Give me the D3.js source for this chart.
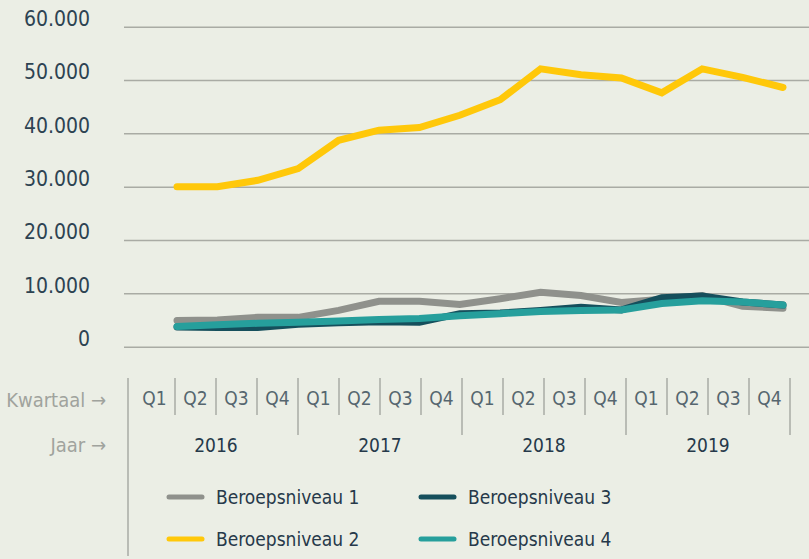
<!DOCTYPE html>
<html>
<head>
<meta charset="utf-8">
<script src="https://cdn.jsdelivr.net/npm/d3@7"></script>
<style>
  html, body { margin: 0; padding: 0; background: #ebeee5; }
  svg { display: block; }
</style>
</head>
<body>
<div id="chart"></div>
<script>
// Quarters and years on the x axis
const quarters = ['Q1', 'Q2', 'Q3', 'Q4'];
const years = ['2016', '2017', '2018', '2019'];
const periods = years.flatMap(y => quarters.map(q => `${y}-${q}`));

const yTicks = [0, 10000, 20000, 30000, 40000, 50000, 60000];

// Series values, one value per quarter 2016 Q1 .. 2019 Q4
const niveau1 = [4900, 5000, 5500, 5500, 6800, 8500, 8500, 7900, 9000, 10200, 9600, 8300, 8900, 9600, 7600, 7200];
const niveau2 = [30000, 30000, 31200, 33400, 38700, 40600, 41100, 43400, 46300, 52100, 51000, 50400, 47600, 52100, 50500, 48600];
const niveau3 = [3700, 3600, 3600, 4200, 4500, 4700, 4600, 6200, 6300, 6800, 7400, 6900, 9200, 9500, 8400, 7800];
const niveau4 = [3800, 4100, 4400, 4600, 4800, 5100, 5300, 5800, 6200, 6600, 6800, 6900, 8100, 8600, 8400, 7800];

const seriesNames = ['Beroepsniveau 1', 'Beroepsniveau 2', 'Beroepsniveau 3', 'Beroepsniveau 4'];
const seriesColors = ['#8f918c', '#ffc80a', '#154f5c', '#269f9c'];

const series = [
  { name: seriesNames[0], color: seriesColors[0], values: niveau1 },
  { name: seriesNames[1], color: seriesColors[1], values: niveau2 },
  { name: seriesNames[2], color: seriesColors[2], values: niveau3 },
  { name: seriesNames[3], color: seriesColors[3], values: niveau4 },
];

const W = 809, H = 559;
const narrow = "'Liberation Sans Narrow', 'DejaVu Sans Condensed', 'Liberation Sans', sans-serif";
const gridColor = '#a9aba4';
const inkDark = '#26394a';

const svg = d3.select('#chart').append('svg')
  .attr('width', W).attr('height', H);

svg.append('rect').attr('width', W).attr('height', H).attr('fill', '#ebeee5');

const y = d3.scaleLinear().domain([0, 60000]).range([346.7, 26.7]);
const xq = d3.scaleBand().domain(periods).range([134, 790]).padding(0);
const x = d3.scalePoint().domain(periods).range([177, 783]);

const nl = d3.formatLocale({ decimal: ',', thousands: '.', grouping: [3], currency: ['€', ''] });
const fmt = nl.format(',');

// Grid lines
const grid = svg.append('g')
  .attr('transform', 'translate(124,0)')
  .call(d3.axisRight(y).tickValues(yTicks).tickSize(W - 124).tickFormat(''));
grid.select('.domain').remove();
grid.selectAll('line').attr('stroke', gridColor).attr('stroke-width', 1.5);

// Y labels
const yAxis = svg.append('g')
  .attr('transform', 'translate(90,0)')
  .call(d3.axisLeft(y).tickValues(yTicks).tickSize(0).tickPadding(0).tickFormat(fmt));
yAxis.select('.domain').remove();
yAxis.selectAll('text')
  .attr('dy', '-0.05em')
  .attr('fill', '#2d4352')
  .attr('font-family', narrow)
  .attr('font-size', '21px');

// Lines
const line = d3.line()
  .x((d, i) => x(periods[i]))
  .y(d => y(d));

svg.append('g').selectAll('path')
  .data(series)
  .join('path')
  .attr('fill', 'none')
  .attr('stroke', d => d.color)
  .attr('stroke-width', 7)
  .attr('stroke-linecap', 'round')
  .attr('stroke-linejoin', 'miter')
  .attr('d', d => line(d.values));

// X axis: left rule, quarter and year dividers
svg.append('line')
  .attr('x1', 128).attr('x2', 128).attr('y1', 378).attr('y2', 556)
  .attr('stroke', gridColor).attr('stroke-width', 1.5);

const bw = xq.bandwidth();
svg.append('g').selectAll('line')
  .data(periods)
  .join('line')
  .attr('x1', d => xq(d) + bw).attr('x2', d => xq(d) + bw)
  .attr('y1', 378)
  .attr('y2', (d, i) => (i % 4 === 3 ? 435 : 415))
  .attr('stroke', gridColor).attr('stroke-width', 1.5);

svg.append('g').selectAll('text')
  .data(periods)
  .join('text')
  .attr('x', d => xq(d) + bw / 2)
  .attr('y', 405)
  .attr('text-anchor', 'middle')
  .attr('fill', '#56666f')
  .attr('font-family', narrow)
  .attr('font-size', '19px')
  .text(d => d.split('-')[1]);

svg.append('g').selectAll('text')
  .data(years)
  .join('text')
  .attr('x', d => (xq(`${d}-Q1`) + xq(`${d}-Q4`) + bw) / 2)
  .attr('y', 452)
  .attr('text-anchor', 'middle')
  .attr('fill', inkDark)
  .attr('font-family', narrow)
  .attr('font-size', '19px')
  .text(d => d);

// Row captions
[['Kwartaal \u2192', 407], ['Jaar \u2192', 452]].forEach(([t, yy]) => {
  svg.append('text')
    .attr('x', 106).attr('y', yy)
    .attr('text-anchor', 'end')
    .attr('fill', '#a0a39d')
    .attr('font-family', narrow)
    .attr('font-size', '20px')
    .text(t);
});

// Legend (2 columns: 1,2 left; 3,4 right)
const legendPos = [[169, 497], [169, 539], [421, 497], [421, 539]];
const legend = svg.append('g').selectAll('g')
  .data(series)
  .join('g')
  .attr('transform', (d, i) => `translate(${legendPos[i][0]},${legendPos[i][1]})`);

legend.append('line')
  .attr('x1', 0).attr('x2', 33)
  .attr('stroke', d => d.color)
  .attr('stroke-width', 5)
  .attr('stroke-linecap', 'round');

legend.append('text')
  .attr('x', 47).attr('y', 7)
  .attr('fill', inkDark)
  .attr('font-family', narrow)
  .attr('font-size', '19px')
  .text(d => d.name);
</script>
</body>
</html>
